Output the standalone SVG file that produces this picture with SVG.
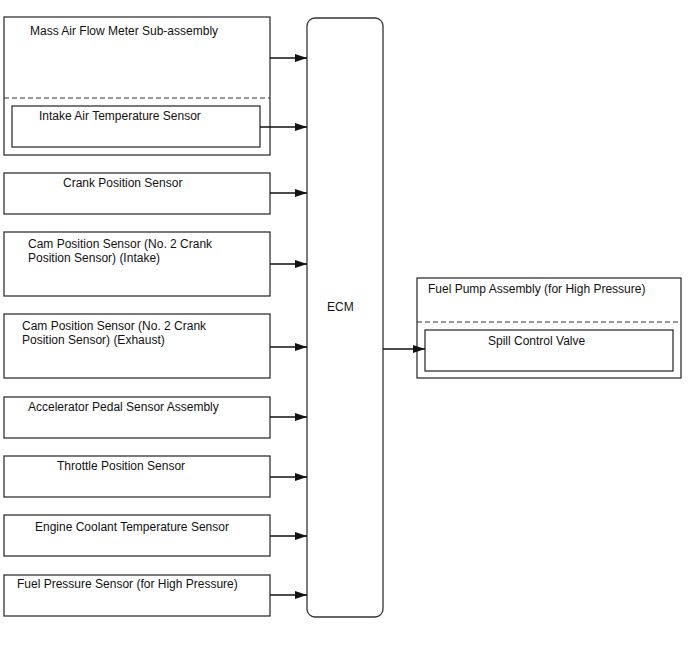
<svg xmlns="http://www.w3.org/2000/svg" width="688" height="658" viewBox="0 0 688 658">
<style>
.box{fill:#fff;stroke:#333;stroke-width:1.3}
.dash{fill:none;stroke:#333;stroke-width:1.2;stroke-dasharray:5 3}
.t{font-family:"Liberation Sans",Arial,sans-serif;font-size:12px;fill:#111}
.c{fill:none;stroke:#111;stroke-width:1.3}
</style>
<defs>
<marker id="ah" viewBox="0 0 12 8" refX="12" refY="4" markerWidth="12" markerHeight="8" markerUnits="userSpaceOnUse" orient="auto">
<path d="M0,0 L12,4 L0,8 Z" fill="#111"/>
</marker>
</defs>
<rect width="688" height="658" fill="#fff"/>
<g id="maf">
<rect class="box" x="4" y="17" width="266" height="138"/>
<text class="t" x="30" y="35">Mass Air Flow Meter Sub-assembly</text>
<line class="dash" x1="4" y1="98" x2="270" y2="98"/>
</g>
<g id="iat">
<rect class="box" x="12" y="106" width="248" height="41"/>
<text class="t" x="39" y="120">Intake Air Temperature Sensor</text>
</g>
<g id="crank">
<rect class="box" x="4" y="173" width="266" height="41"/>
<text class="t" x="63" y="187">Crank Position Sensor</text>
</g>
<g id="cam-intake">
<rect class="box" x="4" y="232" width="266" height="64"/>
<text class="t" x="28" y="248">Cam Position Sensor (No. 2 Crank</text>
<text class="t" x="28" y="262">Position Sensor) (Intake)</text>
</g>
<g id="cam-exhaust">
<rect class="box" x="4" y="314" width="266" height="64"/>
<text class="t" x="22" y="330">Cam Position Sensor (No. 2 Crank</text>
<text class="t" x="22" y="344">Position Sensor) (Exhaust)</text>
</g>
<g id="accel">
<rect class="box" x="4" y="397" width="266" height="41"/>
<text class="t" x="28" y="411">Accelerator Pedal Sensor Assembly</text>
</g>
<g id="throttle">
<rect class="box" x="4" y="456" width="266" height="41"/>
<text class="t" x="57" y="470">Throttle Position Sensor</text>
</g>
<g id="coolant">
<rect class="box" x="4" y="515" width="266" height="41"/>
<text class="t" x="35" y="531">Engine Coolant Temperature Sensor</text>
</g>
<g id="fuel-pressure">
<rect class="box" x="4" y="575" width="266" height="41"/>
<text class="t" x="17" y="588">Fuel Pressure Sensor (for High Pressure)</text>
</g>
<g id="ecm">
<rect class="box" x="307" y="18" width="76" height="599" rx="8" ry="8"/>
<text class="t" x="327" y="311">ECM</text>
</g>
<g id="fuel-pump">
<rect class="box" x="417" y="278" width="264" height="100"/>
<text class="t" x="428" y="293">Fuel Pump Assembly (for High Pressure)</text>
<line class="dash" x1="417" y1="322" x2="681" y2="322"/>
</g>
<g id="spill">
<rect class="box" x="425" y="330" width="248" height="41"/>
<text class="t" x="488" y="345">Spill Control Valve</text>
</g>
<g id="connectors">
<line class="c" x1="270" y1="58" x2="307" y2="58" marker-end="url(#ah)"/>
<line class="c" x1="260" y1="127" x2="307" y2="127" marker-end="url(#ah)"/>
<line class="c" x1="270" y1="193" x2="307" y2="193" marker-end="url(#ah)"/>
<line class="c" x1="270" y1="264" x2="307" y2="264" marker-end="url(#ah)"/>
<line class="c" x1="270" y1="347" x2="307" y2="347" marker-end="url(#ah)"/>
<line class="c" x1="270" y1="417" x2="307" y2="417" marker-end="url(#ah)"/>
<line class="c" x1="270" y1="477" x2="307" y2="477" marker-end="url(#ah)"/>
<line class="c" x1="270" y1="536" x2="307" y2="536" marker-end="url(#ah)"/>
<line class="c" x1="270" y1="595" x2="307" y2="595" marker-end="url(#ah)"/>
<line class="c" x1="383" y1="349" x2="425" y2="349" marker-end="url(#ah)"/>
</g>
</svg>
